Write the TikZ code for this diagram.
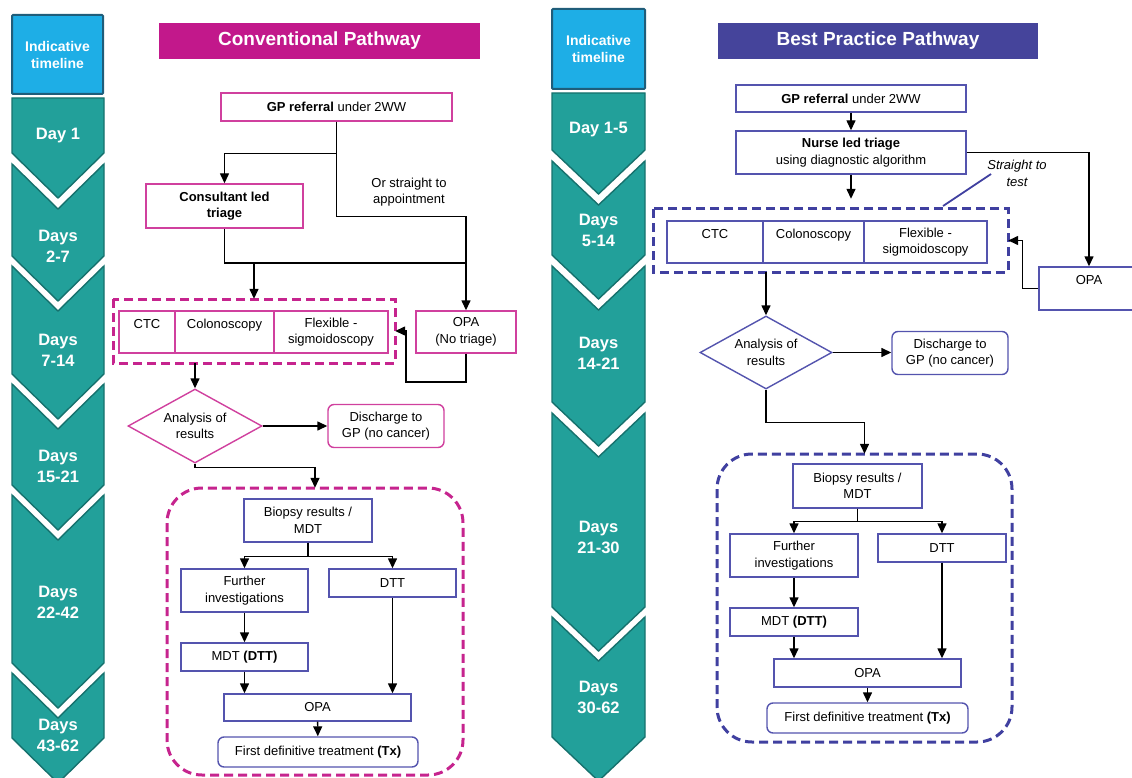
\documentclass[tikz,border=0pt]{standalone}
\usepackage{fontspec}
\setmainfont{Liberation Sans}
\usetikzlibrary{arrows.meta,shapes.geometric}

\definecolor{conhead}{HTML}{C2188B}
\definecolor{conline}{HTML}{D0409E}
\definecolor{condash}{HTML}{C6248E}
\definecolor{besthead}{HTML}{45449B}
\definecolor{bestline}{HTML}{5454AE}
\definecolor{bestdash}{HTML}{4040A0}
\definecolor{tealfill}{HTML}{22A09A}
\definecolor{tealline}{HTML}{16716D}
\definecolor{skyfill}{HTML}{1EAEE6}
\definecolor{skyline}{HTML}{1F5D7A}

\begin{document}
\begin{tikzpicture}[x=1pt, y=-1pt,
  txt/.style={font=\fontsize{13}{16.5}\selectfont, align=center},
  cbox/.style={txt, draw=conline, line width=1.4pt, fill=white, inner sep=2pt},
  bbox/.style={txt, draw=bestline, line width=1.4pt, fill=white, inner sep=2pt},
  roundbox/.style={rounded corners=6pt},
  decision/.style={diamond, aspect=1.8, inner sep=0pt},
  testgroup/.style={line width=3pt, dash pattern=on 9pt off 5pt},
  headbox/.style={text=white, font=\bfseries\fontsize{19}{22}\selectfont},
  chev/.style={fill=tealfill, draw=tealline, line width=1.4pt},
  timebox/.style={fill=skyfill, draw=skyline, line width=2pt, rounded corners=1pt},
  daytxt/.style={text=white, align=center, font=\bfseries\fontsize{16.5}{21}\selectfont},
  timetxt/.style={text=white, align=center, font=\bfseries\fontsize{14}{17}\selectfont},
  arr/.style={-{Triangle[length=10pt,width=9pt]}, line width=1.4pt},
  link/.style={line width=1.4pt}]

\useasboundingbox (0,0) rectangle (1132,778);
\clip (0,0) rectangle (1132,778);

\draw [timebox] (12,15) rectangle (103,94);
\node [timetxt] (ltime) at (57.5,54.5) {Indicative\\timeline};
\draw [chev] (12,98) -- (104,98) -- (104,153) -- (58,198) -- (12,153) -- cycle;
\draw [chev] (12,164) -- (58,209) -- (104,164) -- (104,256) -- (58,301) -- (12,256) -- cycle;
\draw [chev] (12,266) -- (58,311) -- (104,266) -- (104,374) -- (58,419) -- (12,374) -- cycle;
\draw [chev] (12,384) -- (58,429) -- (104,384) -- (104,485) -- (58,530) -- (12,485) -- cycle;
\draw [chev] (12,495) -- (58,540) -- (104,495) -- (104,663) -- (58,708) -- (12,663) -- cycle;
\draw [chev] (12,673) -- (58,718) -- (104,673) -- (104,738) -- (58,783) -- (12,738) -- cycle;
\node [daytxt] (lday1) at (58,136) {Day 1};
\node [daytxt] (lday2) at (58,246) {Days\\2-7};
\node [daytxt] (lday3) at (58,350) {Days\\7-14};
\node [daytxt] (lday4) at (58,466) {Days\\15-21};
\node [daytxt] (lday5) at (58,602) {Days\\22-42};
\node [daytxt] (lday6) at (58,735) {Days\\43-62};

\draw [timebox] (552,9) rectangle (645,89);
\node [timetxt] (rtime) at (598.5,49) {Indicative\\timeline};
\draw [chev] (552,93) -- (645,93) -- (645,150) -- (598.5,194) -- (552,150) -- cycle;
\draw [chev] (552,161) -- (598.5,205) -- (645,161) -- (645,255) -- (598.5,299) -- (552,255) -- cycle;
\draw [chev] (552,266) -- (598.5,310) -- (645,266) -- (645,402) -- (598.5,446) -- (552,402) -- cycle;
\draw [chev] (552,413) -- (598.5,457) -- (645,413) -- (645,607) -- (598.5,651) -- (552,607) -- cycle;
\draw [chev] (552,617) -- (598.5,661) -- (645,617) -- (645,737) -- (598.5,781) -- (552,737) -- cycle;
\node [daytxt] (rday1) at (598.5,130) {Day 1-5};
\node [daytxt] (rday2) at (598.5,230) {Days\\5-14};
\node [daytxt] (rday3) at (598.5,353) {Days\\14-21};
\node [daytxt] (rday4) at (598.5,537) {Days\\21-30};
\node [daytxt] (rday5) at (598.5,697) {Days\\30-62};

% conventional pathway
\node [headbox, fill=conhead, minimum width=321pt, minimum height=36pt] (chead) at (319.5,41) {Conventional Pathway};
\node [cbox, minimum width=231pt, minimum height=28pt] (cgp) at (336.5,107) {\textbf{GP referral} under 2WW};
\node [cbox, minimum width=157pt, minimum height=44pt] (ccons) at (224.5,206) {\textbf{Consultant led}\\\textbf{triage}};
\node [txt] (cstraight) at (409,192) {Or straight to\\appointment};
\node [cbox, minimum width=100pt, minimum height=42pt] (copa) at (466,332) {OPA\\(No triage)};
\draw [testgroup, draw=condash] (113,299) rectangle (395,363);
\node [minimum width=282pt, minimum height=64pt] (ctests) at (254,331) {};
\node [cbox, minimum width=56pt, minimum height=42pt] (cctc) at (147,332) {CTC\\\mbox{}};
\node [cbox, minimum width=99pt, minimum height=42pt] (ccol) at (224.5,332) {Colonoscopy\\\mbox{}};
\node [cbox, minimum width=114pt, minimum height=42pt] (cflex) at (331,332) {Flexible -\\sigmoidoscopy};
\node [cbox, decision, minimum width=134pt, minimum height=74pt] (cana) at (195,426) {Analysis of\\results};
\node [cbox, roundbox, minimum width=116pt, minimum height=43pt] (cdis) at (386,426) {Discharge to\\GP (no cancer)};
\draw [testgroup, draw=condash, rounded corners=35pt] (167,488) rectangle (463,775);
\node [minimum width=296pt, minimum height=287pt] (cbig) at (315,631.5) {};
\node [bbox, minimum width=128pt, minimum height=43pt] (cbio) at (308,520.5) {Biopsy results /\\MDT};
\node [bbox, minimum width=127pt, minimum height=43pt] (cfur) at (244.5,590.5) {Further\\investigations};
\node [bbox, minimum width=127pt, minimum height=28pt] (cdtt) at (392.5,583) {DTT};
\node [bbox, minimum width=127pt, minimum height=28pt] (cmdt) at (244.5,657) {MDT \textbf{(DTT)}};
\node [bbox, minimum width=187pt, minimum height=27pt] (copb) at (317.5,707.5) {OPA};
\node [bbox, roundbox, minimum width=200pt, minimum height=30pt] (cfirst) at (318,752) {First definitive treatment \textbf{(Tx)}};

\coordinate (cjoin) at (466,263);
\coordinate (cback) at (406,382);
\draw [arr] (cgp.south) -- ++(0,32) -| (ccons.north);
\draw [arr] (cgp.south) -- ++(0,95) -| (copa.north);
\draw [link] (ccons.south) |- (cjoin);
\draw [arr] (ctests.north |- cjoin) -- (ctests.north);
\draw [arr] (copa.south) |- (cback) |- (ctests.east);
\draw [arr] (ctests.south -| cana.north) -- (cana.north);
\draw [arr] (cana.east) -- (cana.east -| cdis.west);
\draw [arr] (cana.south) -- ++(0,4) -| (cbig.north);
\draw [arr] (cbio.south) -- ++(0,14) -| (cfur.north);
\draw [arr] (cbio.south) -- ++(0,14) -| (cdtt.north);
\draw [arr] (cfur) -- (cmdt);
\draw [arr] (cmdt.south) -- (cmdt.south |- copb.north);
\draw [arr] (cdtt.south) -- (cdtt.south |- copb.north);
\draw [arr] (copb) -- (cfirst);

% best practice pathway
\node [headbox, fill=besthead, minimum width=320pt, minimum height=36pt] (bhead) at (878,41) {Best Practice Pathway};
\node [bbox, minimum width=230pt, minimum height=27pt] (bgp) at (851,98.5) {\textbf{GP referral} under 2WW};
\node [bbox, minimum width=230pt, minimum height=43pt] (bnur) at (851,152.5) {\textbf{Nurse led triage}\\using diagnostic algorithm};
\node [txt, font=\itshape\fontsize{13}{16.5}\selectfont] (bstraight) at (1017,173.5) {Straight to\\test};
\draw [testgroup, draw=bestdash] (653,209) rectangle (1008,272);
\node [minimum width=355pt, minimum height=63pt] (btests) at (830.5,240.5) {};
\node [bbox, minimum width=96pt, minimum height=42pt] (bctc) at (715,242) {CTC\\\mbox{}};
\node [bbox, minimum width=101pt, minimum height=42pt] (bcol) at (813.5,242) {Colonoscopy\\\mbox{}};
\node [bbox, minimum width=123pt, minimum height=42pt] (bflex) at (925.5,242) {Flexible -\\sigmoidoscopy};
\node [bbox, minimum width=100pt, minimum height=43pt] (bopa) at (1089,288.5) {OPA\\\mbox{}};
\node [bbox, decision, minimum width=132pt, minimum height=73pt] (bana) at (766,352.5) {Analysis of\\results};
\node [bbox, roundbox, minimum width=116pt, minimum height=43pt] (bdis) at (950,353) {Discharge to\\GP (no cancer)};
\draw [testgroup, draw=bestdash, rounded corners=35pt] (717,454) rectangle (1012,742);
\node [minimum width=295pt, minimum height=288pt] (bbig) at (864.5,598) {};
\node [bbox, minimum width=129pt, minimum height=44pt] (bbio) at (857.5,486) {Biopsy results /\\MDT};
\node [bbox, minimum width=128pt, minimum height=43pt] (bfur) at (794,555.5) {Further\\investigations};
\node [bbox, minimum width=128pt, minimum height=28pt] (bdtt) at (942,548) {DTT};
\node [bbox, minimum width=128pt, minimum height=28pt] (bmdt) at (794,622) {MDT \textbf{(DTT)}};
\node [bbox, minimum width=187pt, minimum height=28pt] (bopb) at (867.5,673) {OPA};
\node [bbox, roundbox, minimum width=201pt, minimum height=30pt] (bfirst) at (867.5,718) {First definitive treatment \textbf{(Tx)}};

\coordinate (bptra) at (991,174);
\coordinate (bptrb) at (943,206);
\draw [arr] (bgp) -- (bnur);
\draw [arr, shorten >=10pt] (bnur.south) -- (bnur.south |- btests.north);
\draw [arr] (bnur.east) -| (bopa.north);
\draw [bestdash, line width=1.8pt] (bptra) -- (bptrb);
\draw [arr] (bopa.west) -- ++(-16,0) |- (btests.east);
\draw [arr] (btests.south -| bana.north) -- (bana.north);
\draw [arr] (bana.east) -- (bana.east -| bdis.west);
\draw [arr] (bana.south) -- ++(0,33) -| (bbig.north);
\draw [arr] (bbio.south) -- ++(0,13) -| (bfur.north);
\draw [arr] (bbio.south) -- ++(0,13) -| (bdtt.north);
\draw [arr] (bfur) -- (bmdt);
\draw [arr] (bmdt.south) -- (bmdt.south |- bopb.north);
\draw [arr] (bdtt.south) -- (bdtt.south |- bopb.north);
\draw [arr] (bopb) -- (bfirst);
\end{tikzpicture}
\end{document}
